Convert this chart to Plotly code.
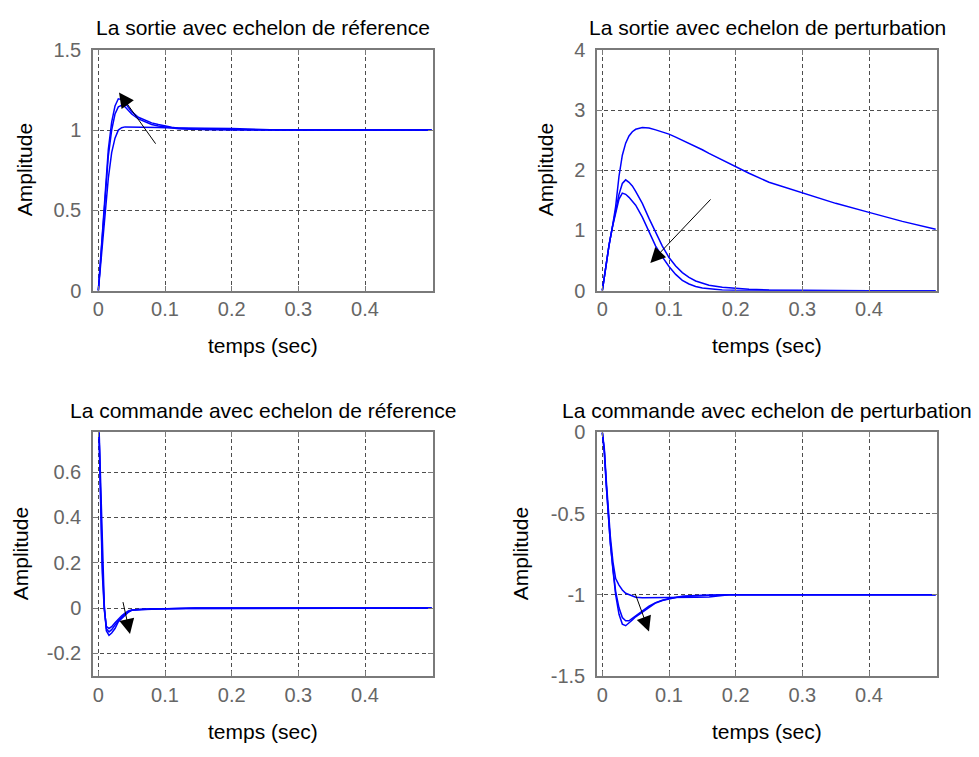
import plotly.graph_objects as go

W, H = 979, 757

# ---------------- data ----------------
# Top-left: output, reference step
t_tl = [0, 0.005, 0.01, 0.015, 0.02, 0.025, 0.03, 0.035, 0.04, 0.045, 0.05, 0.06, 0.07,
        0.08, 0.09, 0.1, 0.11, 0.12, 0.14, 0.16, 0.2, 0.27, 0.35, 0.5]
y_tl_a = [0, 0.30, 0.62, 0.88, 1.05, 1.15, 1.195, 1.19, 1.17, 1.14, 1.115, 1.08, 1.06,
          1.045, 1.035, 1.025, 1.018, 1.012, 1.007, 1.004, 1.002, 1.0, 1.0, 1.0]
y_tl_b = [0, 0.28, 0.58, 0.84, 1.0, 1.10, 1.145, 1.155, 1.145, 1.125, 1.10, 1.07, 1.05,
          1.035, 1.025, 1.018, 1.012, 1.008, 1.005, 1.003, 1.002, 1.0, 1.0, 1.0]
y_tl_c = [0, 0.22, 0.47, 0.70, 0.86, 0.95, 1.0, 1.015, 1.02, 1.02, 1.02, 1.02, 1.018,
          1.017, 1.016, 1.015, 1.015, 1.014, 1.013, 1.012, 1.01, 1.0, 1.0, 1.0]

# Top-right: output, disturbance step
t_tr = [0, 0.005, 0.01, 0.015, 0.02, 0.025, 0.03, 0.035, 0.04, 0.045, 0.05, 0.06, 0.07,
        0.08, 0.09, 0.1, 0.11, 0.12, 0.13, 0.14, 0.15, 0.16, 0.18, 0.2, 0.22, 0.25, 0.3,
        0.35, 0.4, 0.45, 0.5]
y_tr_a = [0, 0.4, 0.75, 1.05, 1.4, 1.9, 2.25, 2.45, 2.57, 2.64, 2.68, 2.71, 2.70,
          2.67, 2.64, 2.60, 2.55, 2.50, 2.45, 2.40, 2.34, 2.28, 2.17, 2.05, 1.95, 1.80, 1.62,
          1.45, 1.30, 1.15, 1.02]
y_tr_b = [0, 0.4, 0.75, 1.05, 1.35, 1.6, 1.78, 1.84, 1.80, 1.74, 1.65, 1.45, 1.2,
          0.96, 0.74, 0.55, 0.41, 0.30, 0.22, 0.16, 0.12, 0.09, 0.055, 0.035, 0.022, 0.012, 0.004,
          0.001, 0.0, 0.0, 0.0]
y_tr_c = [0, 0.4, 0.75, 1.05, 1.3, 1.52, 1.62, 1.60, 1.55, 1.48, 1.42, 1.22, 0.98,
          0.74, 0.56, 0.40, 0.27, 0.17, 0.11, 0.07, 0.045, 0.03, 0.012, 0.005, 0.002, 0.0, 0.0,
          0.0, 0.0, 0.0, 0.0]

# Bottom-left: control, reference step
t_bl = [0, 0.003, 0.006, 0.009, 0.012, 0.016, 0.02, 0.025, 0.03, 0.035, 0.04, 0.045,
        0.05, 0.06, 0.07, 0.08, 0.1, 0.12, 0.145, 0.5]
y_bl_a = [0.9, 0.60, 0.22, 0.01, -0.10, -0.12, -0.11, -0.09, -0.06, -0.045, -0.03, -0.018,
          -0.01, -0.007, -0.006, -0.005, -0.004, -0.003, 0.0, 0.0]
y_bl_b = [0.9, 0.55, 0.19, 0.0, -0.09, -0.105, -0.095, -0.075, -0.055, -0.04, -0.026, -0.016,
          -0.009, -0.006, -0.005, -0.004, -0.003, -0.002, 0.0, 0.0]
y_bl_c = [0.9, 0.47, 0.15, -0.01, -0.08, -0.09, -0.082, -0.065, -0.048, -0.034, -0.022, -0.013,
          -0.008, -0.005, -0.004, -0.003, -0.003, -0.002, 0.0, 0.0]

# Bottom-right: control, disturbance step
t_br = [0, 0.003, 0.006, 0.009, 0.012, 0.016, 0.02, 0.025, 0.03, 0.035, 0.04, 0.045,
        0.05, 0.06, 0.07, 0.08, 0.09, 0.1, 0.11, 0.12, 0.14, 0.16, 0.19, 0.5]
y_br_a = [0, -0.12, -0.33, -0.52, -0.68, -0.85, -1.0, -1.12, -1.18, -1.19, -1.175, -1.155,
          -1.135, -1.105, -1.075, -1.05, -1.035, -1.025, -1.017, -1.01, -1.005, -1.002, -1.0, -1.0]
y_br_b = [0, -0.12, -0.33, -0.52, -0.68, -0.84, -0.98, -1.08, -1.14, -1.16, -1.16, -1.145,
          -1.13, -1.10, -1.07, -1.048, -1.033, -1.023, -1.015, -1.009, -1.004, -1.002, -1.0, -1.0]
y_br_c = [0, -0.10, -0.30, -0.48, -0.64, -0.80, -0.90, -0.94, -0.97, -0.99, -1.0, -1.01,
          -1.015, -1.018, -1.017, -1.016, -1.016, -1.015, -1.015, -1.015, -1.014, -1.013, -1.0, -1.0]

x_ticks = [0, 0.1, 0.2, 0.3, 0.4]
x_ticktext = ["0", "0.1", "0.2", "0.3", "0.4"]
y_ticks_tl = [0, 0.5, 1, 1.5]
y_ticktext_tl = ["0", "0.5", "1", "1.5"]
y_ticks_tr = [0, 1, 2, 3, 4]
y_ticktext_tr = ["0", "1", "2", "3", "4"]
y_ticks_bl = [-0.2, 0, 0.2, 0.4, 0.6]
y_ticktext_bl = ["-0.2", "0", "0.2", "0.4", "0.6"]
y_ticks_br = [-1.5, -1, -0.5, 0]
y_ticktext_br = ["-1.5", "-1", "-0.5", "0"]

titles = ["La sortie avec echelon de réference",
          "La sortie avec echelon de perturbation",
          "La commande avec echelon de réference",
          "La commande avec echelon de perturbation"]
xlabel = "temps (sec)"
ylabel = "Amplitude"

# arrows: (head_t, head_y, tail_t, tail_y)
arrows = [(0.031, 1.235, 0.0875, 0.906),
          (0.072, 0.46, 0.1645, 1.54),
          (0.0475, -0.114, 0.0365, 0.033),
          (0.07, -1.225, 0.0485, -0.984)]

# ---------------- figure ----------------
FONT = "Liberation Sans, Arial, sans-serif"
BLUE = "#0000ff"
AXC = "#7a7a7a"

fig = go.Figure()

panels = [
    ("x", "y", t_tl, [y_tl_c, y_tl_b, y_tl_a]),
    ("x2", "y2", t_tr, [y_tr_c, y_tr_b, y_tr_a]),
    ("x3", "y3", t_bl, [y_bl_c, y_bl_b, y_bl_a]),
    ("x4", "y4", t_br, [y_br_c, y_br_b, y_br_a]),
]
for xa, ya, t, series in panels:
    for ys in series:
        fig.add_trace(go.Scatter(x=t, y=ys, mode="lines", xaxis=xa, yaxis=ya,
                                 line=dict(color=BLUE, width=1.5),
                                 showlegend=False, hoverinfo="skip"))

# pixel boxes of the axes
boxes = [(93, 433, 40, 288), (597, 937, 40, 288), (93, 433, 434, 685), (597, 937, 434, 685)]


def xdom(b):
    return [b[0] / W, b[1] / W]


def ydom(b):
    return [1 - b[3] / H, 1 - b[2] / H]


def ax_common():
    return dict(showline=True, linecolor=AXC, linewidth=1.5, mirror="allticks",
                ticks="inside", ticklen=5, tickcolor=AXC, tickwidth=1,
                showgrid=True, gridcolor="#4d4d4d", griddash="4px,3px", gridwidth=1,
                zeroline=False, fixedrange=True,
                tickfont=dict(family=FONT, size=20, color="#666666"))


xr = [-0.008, 0.502]
yranges = [[0, 1.5], [0, 4], [-0.3, 0.775], [-1.5, 0]]
yt = [(y_ticks_tl, y_ticktext_tl), (y_ticks_tr, y_ticktext_tr),
      (y_ticks_bl, y_ticktext_bl), (y_ticks_br, y_ticktext_br)]

layout = dict(width=W, height=H, margin=dict(l=0, r=0, t=0, b=0),
              paper_bgcolor="white", plot_bgcolor="white", showlegend=False)
for i, b in enumerate(boxes):
    sx = "" if i == 0 else str(i + 1)
    xa = ax_common()
    xa.update(domain=xdom(b), range=xr, tickvals=x_ticks, ticktext=x_ticktext,
              anchor="y" + sx, ticklabelstandoff=0)
    ya = ax_common()
    ya.update(domain=ydom(b), range=yranges[i], tickvals=yt[i][0], ticktext=yt[i][1],
              anchor="x" + sx, ticklabelstandoff=6)
    layout["xaxis" + sx] = xa
    layout["yaxis" + sx] = ya

annotations = []
title_y = [17, 17, 411, 411]
xlab_y = [345, 345, 742, 742]
ylab_x = [24, 545, 20, 520]
for i, b in enumerate(boxes):
    cx = (b[0] + b[1]) / 2
    cy = (b[2] + b[3]) / 2
    annotations.append(dict(text=titles[i], x=cx / W, y=1 - title_y[i] / H, xref="paper", yref="paper",
                            xanchor="center", yanchor="middle", showarrow=False,
                            font=dict(family=FONT, size=21, color="black")))
    annotations.append(dict(text=xlabel, x=cx / W, y=1 - xlab_y[i] / H, xref="paper", yref="paper",
                            xanchor="center", yanchor="middle", showarrow=False,
                            font=dict(family=FONT, size=21, color="black")))
    annotations.append(dict(text=ylabel, x=ylab_x[i] / W, y=1 - cy / H, xref="paper", yref="paper",
                            xanchor="center", yanchor="middle", showarrow=False, textangle=-90,
                            font=dict(family=FONT, size=21, color="black")))
    sx = "" if i == 0 else str(i + 1)
    hx, hy, tx, ty = arrows[i]
    annotations.append(dict(x=hx, y=hy, ax=tx, ay=ty, xref="x" + sx, yref="y" + sx,
                            axref="x" + sx, ayref="y" + sx, text="", showarrow=True,
                            arrowhead=2, arrowsize=3, arrowwidth=1, arrowcolor="black"))
layout["annotations"] = annotations

fig.update_layout(**layout)
fig.write_html("out.html")
